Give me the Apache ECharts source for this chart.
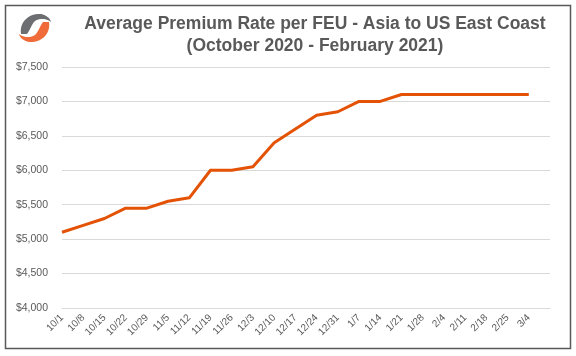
<!DOCTYPE html>
<html><head><meta charset="utf-8">
<script src="https://cdn.jsdelivr.net/npm/echarts@6/dist/echarts.min.js"></script>
<style>html,body{margin:0;padding:0;background:#fff}#c{width:576px;height:356px}</style>
</head><body><div id="c"></div>
<script>
var categories = ['10/1','10/8','10/15','10/22','10/29','11/5','11/12','11/19','11/26','12/3','12/10','12/17','12/24','12/31','1/7','1/14','1/21','1/28','2/4','2/11','2/18','2/25','3/4'];
var rates = [5100,5200,5300,5450,5450,5550,5600,6000,6000,6050,6400,6600,6800,6850,7000,7000,7100,7100,7100,7100,7100,7100,7100];
var yTicks = [4000,4500,5000,5500,6000,6500,7000,7500];
var titleLine1 = 'Average Premium Rate per FEU - Asia to US East Coast';
var titleLine2 = '(October 2020 - February 2021)';

// logo helper: sample cubic bezier segments into polygon points
function bez(start, segs) {
  var pts = [start.slice()], p = start;
  segs.forEach(function (s) {
    for (var i = 1; i <= 12; i++) {
      var t = i / 12, u = 1 - t;
      pts.push([
        u*u*u*p[0] + 3*u*u*t*s[0] + 3*u*t*t*s[2] + t*t*t*s[4],
        u*u*u*p[1] + 3*u*u*t*s[1] + 3*u*t*t*s[3] + t*t*t*s[5]
      ]);
    }
    p = [s[4], s[5]];
  });
  return pts;
}
var grayLogo = bez([21,34], [[19,22,29,13,41,14],[46,15,50,18,51,22],[46,18,38,18,34,22],[31,26,30,30,27,34]]);
var orangeLogo = bez([49,22], [[51,34,41,43,29,42],[24,41,20,38,19,34],[24,38,32,38,36,34],[39,30,40,26,43,22]]);

var chart = echarts.init(document.getElementById('c'), null, {renderer:'canvas'});
chart.setOption({
  animation:false,
  backgroundColor:'#fff',
  title:{
    text: titleLine1 + '\n' + titleLine2,
    left: 310, top: 8, textAlign:'center',
    textStyle:{fontFamily:'Liberation Sans, Arial', fontWeight:'bold', fontSize:17.5, color:'#595959', lineHeight:22}
  },
  graphic:[
    {type:'rect', shape:{x:5.5,y:5.5,width:565,height:343}, style:{fill:'none', stroke:'#595959', lineWidth:1.5}, silent:true},
    {type:'polygon', shape:{points:grayLogo}, style:{fill:'#6d6e71'}},
    {type:'polygon', shape:{points:orangeLogo}, style:{fill:'#ef6c3a'}}
  ],
  grid:{left:62, right:26, top:67, bottom:48},
  xAxis:{
    type:'category', data:categories, boundaryGap:false, max:categories.length,
    axisLine:{show:true, lineStyle:{color:'#d9d9d9'}},
    axisTick:{show:false},
    axisLabel:{rotate:45, interval:0, fontFamily:'Liberation Sans, Arial', fontSize:10, color:'#595959', margin:8},
    splitLine:{show:false}
  },
  yAxis:{
    type:'value', min:yTicks[0], max:yTicks[yTicks.length-1], interval:500,
    axisLine:{show:false}, axisTick:{show:false},
    axisLabel:{fontFamily:'Liberation Sans, Arial', fontSize:10.5, color:'#595959', margin:14,
      formatter:function(v){return '$'+v.toLocaleString('en-US');}},
    splitLine:{lineStyle:{color:'#d9d9d9', width:1}}
  },
  series:[{
    type:'line', data:rates, showSymbol:false, symbol:'none',
    lineStyle:{color:'#e35205', width:3, join:'round'}
  }]
});
</script></body></html>
